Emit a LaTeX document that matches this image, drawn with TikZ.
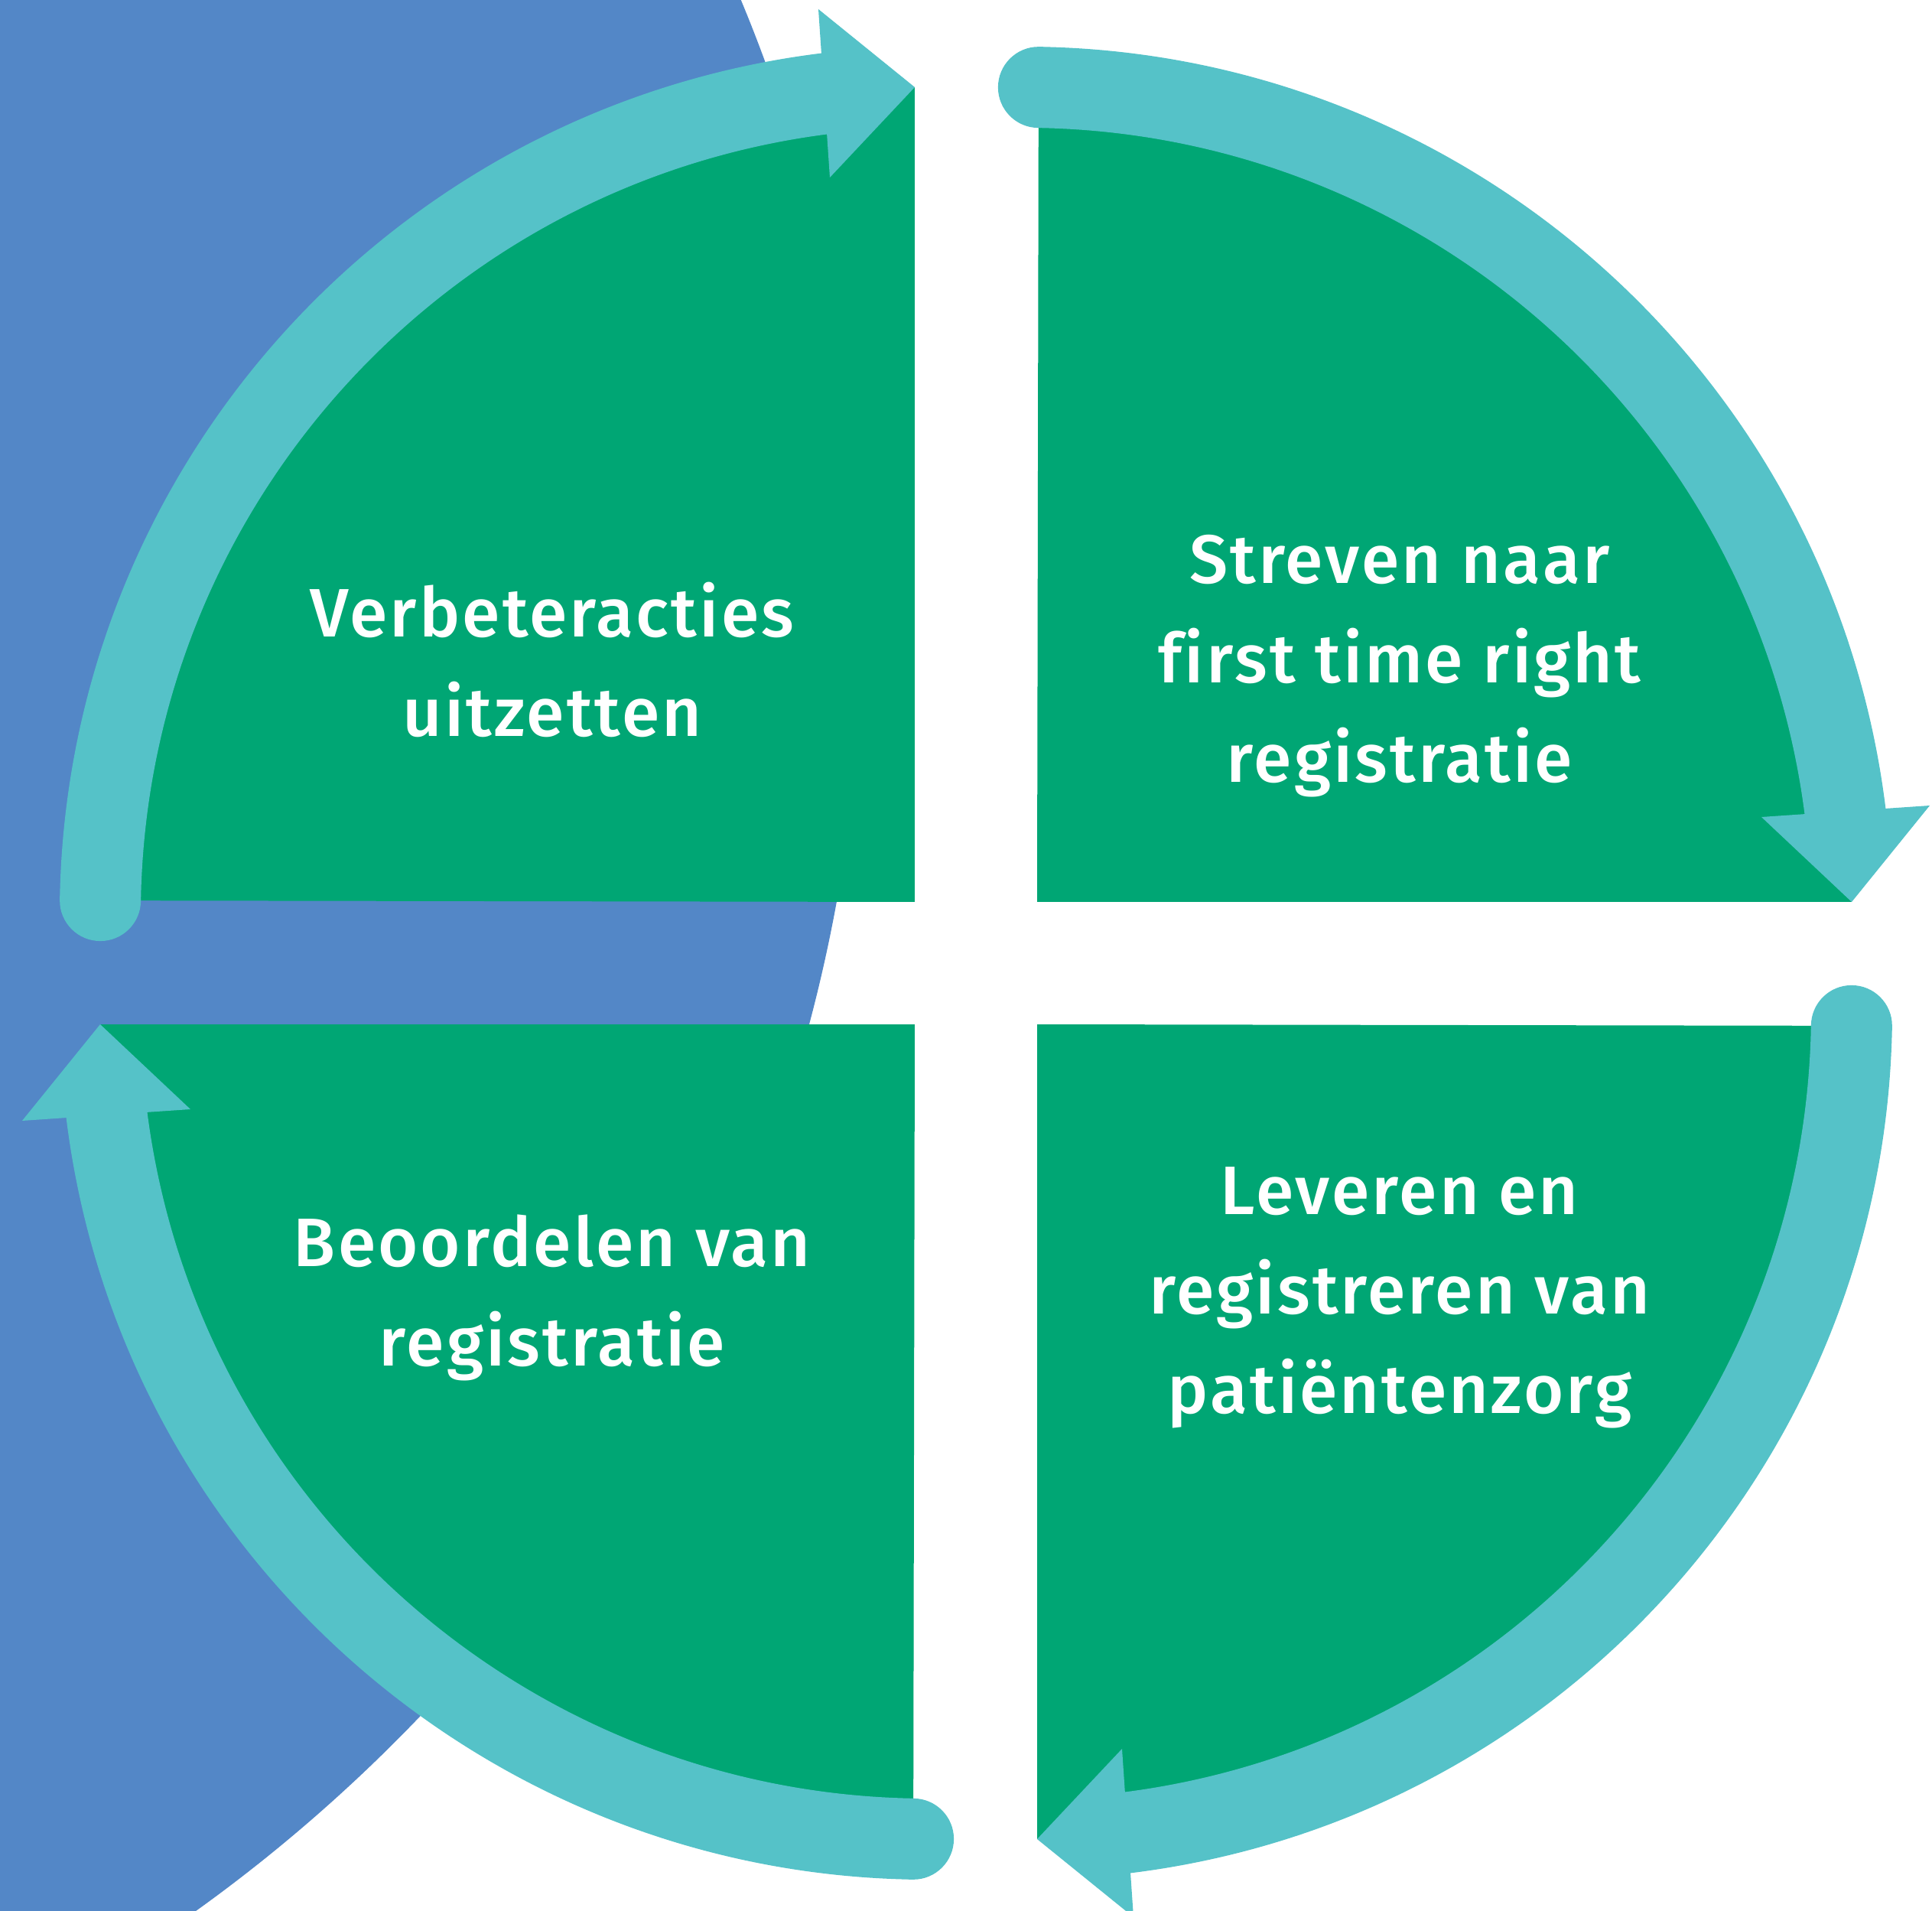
\documentclass[tikz,border=0pt]{standalone}
\usepackage{fontspec}
\setmainfont{Fira Sans}[UprightFont={* Medium}, Ligatures={NoCommon}, LetterSpace=3.5]
\usepackage{tikz}
\definecolor{cyclegreen}{RGB}{0,166,116}
\definecolor{cyclearrow}{RGB}{85,194,200}
\definecolor{cycleblue}{RGB}{83,135,199}
\newcommand{\quadrant}{\fill[cyclegreen] (-0.8,0.8) -- ([shift={(179:10.82)}]-0.63,0.63) arc[start angle=179, end angle=97.2, radius=10.82] -- (-0.8,11.45) -- cycle;
					\draw[cyclearrow, line width=1.06cm] ([shift={(179:10.82)}]-0.63,0.63) arc[start angle=179, end angle=96.5, radius=10.82];
					\fill[cyclearrow] ([shift={(179:10.82)}]-0.63,0.63) circle[radius=0.53];
					\fill[cyclearrow] (-2.06,12.47) -- (-0.8,11.45) -- (-1.91,10.27) -- cycle;}
\tikzset{steptext/.style={text=white, align=center, inner sep=0pt, font=\fontsize{25.5pt}{37pt}\selectfont}}

\begin{document}
\begin{tikzpicture}

					\useasboundingbox (-12.76,-12.38) rectangle (12.50,12.59);

					\begin{scope}
						\clip (-12.76,-12.38) rectangle (12.50,12.59);
						\fill[cycleblue] (-22.35,4.58) circle[radius=20.87];
					\end{scope}

					\begin{scope}[rotate = 0]
						\quadrant
					\end{scope}

					\begin{scope}[rotate = -90]
						\quadrant
					\end{scope}

					\begin{scope}[rotate = -180]
						\quadrant
					\end{scope}

					\begin{scope}[rotate = -270]
						\quadrant
					\end{scope}

					\node[steptext] (improve) at (-5.54,3.97) {Verbeteracties\\uitzetten};
					\node[steptext] (strive) at (5.54,3.88) {Streven naar\\first time right\\registratie};
					\node[steptext] (deliver) at (5.54,-4.37) {Leveren en\\registreren van\\patiëntenzorg};
					\node[steptext] (assess) at (-5.54,-4.37) {Beoordelen van\\registratie};

				\end{tikzpicture}
\end{document}
